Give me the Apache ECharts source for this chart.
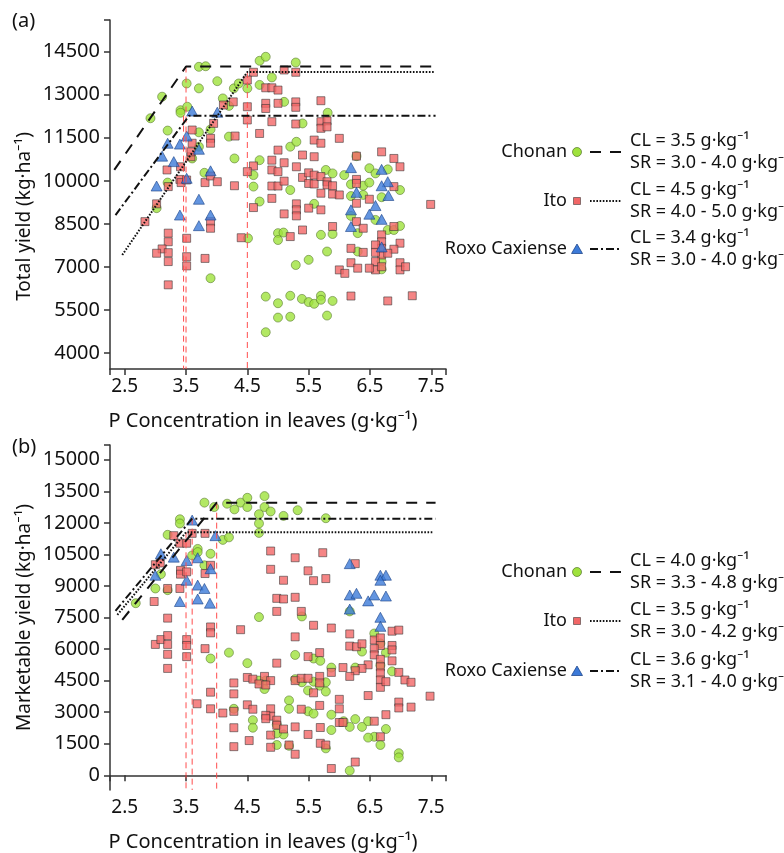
<!DOCTYPE html>
<html>
<head>
<meta charset="utf-8">
<script src="https://cdn.jsdelivr.net/npm/echarts@6/dist/echarts.min.js"></script>
<style>
  html, body { margin: 0; padding: 0; background: #fff; }
  #chart { width: 784px; height: 853px; }
</style>
</head>
<body>
<div id="chart"></div>
<script>
// ticks
const xTicks = [2.5, 3.5, 4.5, 5.5, 6.5, 7.5];
const yTicksA = [4000, 5500, 7000, 8500, 10000, 11500, 13000, 14500];
const yTicksB = [0, 1500, 3000, 4500, 6000, 7500, 9000, 10500, 12000, 13500, 15000];

// (a) total yield
const chonanA = [
  [2.92,12180],[3.11,12930],[3.51,13390],[3.71,13970],[3.82,13990],[3.71,13220],[4.01,13470],[4.28,13220],
  [4.1,12870],[4.2,12610],[3.41,12460],[3.41,12370],[3.52,12580],[3.2,11750],[3.71,11690],[3.9,11790],
  [3.71,11190],[3.6,10780],[4.29,10780],[3.8,10280],[3.2,9940],[3.02,9050],[3.9,6610],[4.2,11540],
  [4.7,14180],[4.8,14320],[5.29,14120],[4.9,13600],[4.7,13340],[4.5,13220],[4.36,13390],[5.1,12750],
  [5.4,12000],[5.81,12370],[5.2,11190],[5.3,11360],[4.7,10720],[4.6,10200],[4.6,9800],[5.2,9680],
  [4.7,9280],[5.59,9200],[5.78,10380],[5.89,10260],[6.08,10200],[5.0,8180],[5.09,8200],[5.0,7940],
  [4.51,8000],[5.7,8120],[5.89,8150],[5.8,7540],[5.5,7250],[5.29,7070],[4.8,5970],[5.0,5740],
  [5.2,6000],[5.39,5890],[5.5,5780],[5.59,5720],[5.7,6000],[5.7,5860],[5.89,5820],[5.0,5240],
  [5.2,5270],[5.8,5310],[4.8,4730],
  [6.28,10860],[6.19,9880],[6.39,9830],[6.49,9940],[6.49,10440],[6.59,10260],[6.79,10400],[6.99,9680],
  [6.19,9470],[6.39,9510],[6.69,9430],[6.19,8780],[6.59,8640],[6.79,8290],[6.89,8290],[6.99,8430],
  [6.3,8180],[6.3,7540],[6.69,7190],[6.69,6920]
];
const itoA = [
  [2.83,8580],[3.02,9200],[3.21,9800],[3.19,10380],[3.4,10050],[3.42,9940],[3.51,10030],[3.41,10490],
  [3.58,10840],[3.58,11010],[3.6,11310],[3.6,11770],[3.9,11480],[3.9,11310],[3.95,12000],[3.81,9940],
  [3.9,10170],[4.01,9970],[3.9,8580],[3.9,8350],[3.81,7300],[3.51,8000],[3.51,7360],[3.51,7040],
  [3.21,8180],[3.21,7880],[3.11,7630],[3.02,7480],[3.21,7500],[3.21,7190],[3.21,6380],[4.11,12640],
  [4.27,12750],[4.29,9830],
  [4.6,13780],[5.1,13860],[5.29,13780],[4.8,13240],[4.9,13240],[5.0,13160],[4.5,13510],[4.5,12580],
  [4.5,12120],[4.8,12700],[4.8,12520],[5.0,12700],[5.29,12750],[5.29,12560],[5.7,12790],[4.9,12060],
  [5.29,11980],[5.7,12060],[5.7,11830],[5.8,12090],[5.8,11880],[6.0,11480],[5.59,11420],[5.7,11310],
  [4.7,11650],[4.3,11560],[5.0,11070],[5.4,10900],[5.59,10840],[4.9,10720],[4.9,10380],[5.1,10630],
  [5.3,10490],[4.6,10520],[4.5,10320],[5.0,10320],[4.9,9820],[5.0,9820],[5.1,9990],[5.4,10120],
  [5.5,10280],[5.5,9910],[5.59,10200],[5.59,9890],[5.7,10150],[5.8,9970],[5.8,9860],[5.89,9830],
  [5.89,9540],[5.7,9570],[4.9,9390],[4.6,9070],[5.3,9200],[5.3,8990],[5.3,8780],[5.5,9050],
  [5.7,8990],[5.1,8850],[5.4,8290],[5.2,8060],[5.89,8410],[4.4,8020],[6.0,6900],[6.09,6780],
  [6.28,10860],[6.69,11010],[6.89,10780],[6.99,10490],[6.28,10050],[6.28,9910],[6.0,9510],[6.28,9220],
  [6.49,9360],[6.89,9800],[7.49,9180],[6.28,8580],[6.39,8350],[6.69,8120],[6.69,7880],[6.69,7650],
  [6.69,7420],[6.59,7770],[6.59,7510],[6.89,8410],[6.99,7830],[6.89,7620],[6.79,7480],[6.19,7650],
  [6.39,7510],[6.19,7150],[6.3,6960],[6.99,7150],[6.99,6900],[7.08,7010],[6.59,7190],[6.59,6900],
  [6.49,6960],[6.69,7010],[6.19,5990],[6.79,5820],[7.19,6000]
];
const roxoA = [
  [3.6,12430],[4.01,12390],[3.2,11310],[3.4,11280],[3.51,11560],[3.71,11100],[3.11,10860],[3.3,10670],
  [3.9,10350],[3.51,10090],[3.02,9820],[3.71,9360],[3.4,8810],[3.9,8810],[3.71,8440],
  [6.19,10460],[6.69,10400],[6.79,9970],[6.69,9830],[6.28,9600],[6.8,9490],[6.59,9140],[6.19,8990],
  [6.49,8840],[6.69,8660],[6.19,8410],[6.69,7700]
];

// (b) marketable yield
const chonanB = [
  [2.68,8180],[3.0,8880],[3.2,8800],[3.09,9560],[3.2,11430],[3.4,12170],[3.4,11970],[3.6,10450],
  [3.69,10760],[3.69,10610],[3.9,10530],[3.8,9980],[3.8,12960],[3.96,12750],[4.17,12910],[4.1,11190],
  [4.2,11310],[3.9,5550],[4.2,5830],[4.28,3160],
  [4.29,12640],[4.39,12960],[4.5,13190],[4.5,12750],[4.69,12410],[4.69,11970],[4.69,11520],[4.78,13270],
  [4.78,12750],[4.88,12540],[5.09,12330],[5.32,12600],[5.78,12220],[4.69,7520],[4.5,5330],[5.28,5720],
  [5.39,7550],[5.58,5550],[5.69,5440],[5.87,5120],[4.69,4500],[4.8,4500],[4.78,4100],[5.28,4570],
  [5.58,4450],[5.78,4420],[5.68,4260],[5.78,3980],[5.49,4030],[5.39,4420],[5.18,3560],[5.18,3160],
  [5.49,3040],[5.58,2930],[5.87,2880],[4.59,2620],[4.59,2260],[4.98,2410],[5.09,1940],[4.98,1990],
  [5.87,2150],[4.98,1440],[5.18,1400],[5.78,1280],
  [6.17,7790],[6.57,6740],[6.67,6270],[6.37,5880],[6.76,5830],[6.26,5120],[6.67,5230],[6.86,4940],
  [6.07,2570],[6.17,2300],[6.26,2670],[6.37,2300],[6.47,2570],[6.57,1830],[6.47,1790],[6.67,1440],
  [6.76,2200],[6.97,1050],[6.97,850],[6.17,220]
];
const itoB = [
  [3.0,10010],[3.08,10090],[2.98,8260],[3.2,8880],[3.2,7470],[3.3,11390],[3.4,11030],[3.51,11030],
  [3.41,9740],[3.41,9560],[3.51,9670],[3.4,8880],[3.6,11500],[3.81,11500],[3.81,9590],[3.9,9980],
  [3.0,6220],[3.09,6450],[3.2,6640],[3.2,6220],[3.2,5750],[3.2,5080],[3.51,6450],[3.51,6170],
  [3.51,5640],[3.81,6020],[3.9,7050],[3.9,6770],[3.68,3400],[3.9,3950],[3.9,3160],[4.1,2960],
  [4.28,4390],[4.28,3870],[4.28,3040],[4.28,2260],[4.28,1360],
  [4.88,10660],[4.88,9790],[5.28,10340],[5.73,10580],[5.49,9720],[5.58,9250],[5.78,9350],[5.09,9270],
  [4.98,8410],[5.09,8380],[5.28,8460],[4.98,7790],[5.38,7790],[5.28,6580],[5.58,7130],[5.87,7000],
  [4.39,6920],[4.98,5330],[5.49,5640],[5.68,5830],[5.87,4890],[6.06,5120],[4.5,4650],[4.78,4700],
  [4.88,4500],[4.59,4570],[4.69,4340],[4.8,4290],[5.28,4500],[5.38,4610],[5.49,4610],[5.68,4700],
  [5.68,4390],[5.58,3920],[5.68,3320],[6.0,3610],[6.0,3160],[4.5,3350],[4.59,3140],[4.88,3160],
  [4.88,2810],[4.8,2850],[4.8,2690],[4.98,2620],[4.98,2380],[5.09,2200],[5.28,2300],[5.38,3140],
  [5.69,2270],[6.0,2510],[6.06,2510],[4.88,1910],[4.88,1330],[4.53,1650],[5.49,1940],[5.69,1520],
  [5.78,1440],[5.18,1440],[5.28,1000],[5.87,320],
  [6.26,10060],[6.17,6720],[6.17,6140],[6.28,6110],[6.37,6250],[6.57,6430],[6.67,6530],[6.67,6170],
  [6.86,6850],[6.97,6900],[6.86,6170],[6.86,5960],[6.57,6020],[6.57,5720],[6.67,5510],[6.67,5160],
  [6.47,5250],[6.37,5080],[6.26,4970],[6.17,4700],[6.86,5440],[6.67,4860],[6.67,4530],[6.67,4180],
  [6.76,4450],[6.97,4890],[7.07,4530],[7.17,4420],[6.47,3790],[6.97,3480],[6.97,3200],[7.17,3240],
  [7.48,3760],[6.76,2880],[6.57,2570],[6.67,1830],[6.26,630]
];
const roxoB = [
  [3.6,12130],[3.98,11390],[3.09,10530],[3.0,9510],[3.3,10370],[3.51,10210],[3.69,10340],[3.9,9820],
  [3.51,9270],[3.69,9040],[3.8,8880],[3.4,8260],[3.69,8380],[3.89,8180],
  [6.17,10060],[6.67,9510],[6.76,9510],[6.67,9270],[6.17,8570],[6.28,8650],[6.47,8290],[6.57,8570],
  [6.76,8520],[6.17,7900],[6.67,7510],[6.67,7080]
];

// linear-plateau fits
const fitChonanA = [[2.33,10380],[3.5,13980],[7.57,13980]];
const fitItoA = [[2.46,7420],[4.5,13790],[7.54,13790]];
const fitRoxoA = [[2.35,8810],[3.55,12270],[7.57,12270]];
const fitChonanB = [[2.46,7390],[4.0,12960],[7.57,12960]];
const fitItoB = [[2.38,7630],[3.5,11550],[7.54,11550]];
const fitRoxoB = [[2.35,7820],[3.6,12200],[7.57,12200]];

// critical levels (x, plateau top)
const critA = [[3.5,13980],[4.5,13790],[3.46,12270]];
const critB = [[4.0,12960],[3.5,11550],[3.6,12200]];

const names = ['Chonan', 'Ito', 'Roxo Caxiense'];
const clA = ['CL = 3.5 g·kg⁻¹', 'CL = 4.5 g·kg⁻¹', 'CL = 3.4 g·kg⁻¹'];
const srA = ['SR = 3.0 - 4.0 g·kg⁻¹', 'SR = 4.0 - 5.0 g·kg⁻¹', 'SR = 3.0 - 4.0 g·kg⁻¹'];
const clB = ['CL = 4.0 g·kg⁻¹', 'CL = 3.5 g·kg⁻¹', 'CL = 3.6 g·kg⁻¹'];
const srB = ['SR = 3.3 - 4.8 g·kg⁻¹', 'SR = 3.0 - 4.2 g·kg⁻¹', 'SR = 3.1 - 4.0 g·kg⁻¹'];

const FONT = '"Noto Sans", "DejaVu Sans", sans-serif';
const X_MIN = 2.26, X_MAX = 7.74;
const YA_MIN = 3450, YA_MAX = 15600;
const YB_MIN = -700, YB_MAX = 15700;

const greenStyle = { color: '#9fe23c', borderColor: 'rgba(80,110,40,0.85)', borderWidth: 0.8 };
const redStyle = { color: '#f26666', borderColor: 'rgba(50,50,50,0.7)', borderWidth: 1 };
const blueStyle = { color: '#3c7ad8', borderColor: 'rgba(20,60,130,0.9)', borderWidth: 0.8 };
const lineDashes = [[11, 9], [1.6, 1.6], [8, 3, 2, 3]];

function xAxisCfg(gi) {
  return {
    type: 'value', gridIndex: gi, min: X_MIN, max: X_MAX,
    name: 'P Concentration in leaves (g·kg⁻¹)', nameLocation: 'middle', nameGap: 42,
    nameTextStyle: { fontFamily: FONT, fontSize: 20, color: '#111', padding: [0, 30, 0, 0] },
    splitLine: { show: false },
    axisLine: { lineStyle: { color: '#333', width: 1.5 } },
    axisTick: { length: 6, lineStyle: { color: '#333', width: 1.5 }, customValues: [X_MIN].concat(xTicks, [X_MAX]) },
    axisLabel: { customValues: xTicks, margin: 8, fontFamily: FONT, fontSize: 19, color: '#111',
      formatter: v => v.toFixed(1) }
  };
}
function yAxisCfg(gi, name, min, max, ticks, pad) {
  return {
    type: 'value', gridIndex: gi, min: min, max: max,
    name: name, nameLocation: 'middle', nameGap: 76,
    nameTextStyle: { fontFamily: FONT, fontSize: 19, color: '#111', padding: pad },
    splitLine: { show: false },
    axisLine: { show: true, lineStyle: { color: '#333', width: 1.5 } },
    axisTick: { show: true, length: 6, lineStyle: { color: '#333', width: 1.5 }, customValues: ticks.concat([max]) },
    axisLabel: { customValues: ticks, margin: 10, fontFamily: FONT, fontSize: 20, color: '#111',
      formatter: v => String(Math.round(v)) }
  };
}

function scatter(data, gi, symbol, size, style) {
  return { type: 'scatter', xAxisIndex: gi, yAxisIndex: gi, data: data, symbol: symbol,
    symbolSize: size, itemStyle: style, z: 2, silent: true };
}
function fitLine(data, gi, dash) {
  return { type: 'line', xAxisIndex: gi, yAxisIndex: gi, data: data, showSymbol: false, z: 4,
    lineStyle: { color: '#111', width: 2, type: dash }, silent: true };
}
function critLines(crit, gi, yMin) {
  return crit.map(c => ({
    type: 'line', xAxisIndex: gi, yAxisIndex: gi, data: [[c[0], c[1]], [c[0], yMin]],
    showSymbol: false, z: 3, silent: true,
    lineStyle: { color: '#ff4d4d', width: 1, type: [6, 4] }
  }));
}

function legend(rowsY, cl, sr) {
  const els = [];
  rowsY.forEach((y, i) => {
    els.push({ type: 'text', x: 567, y: y, style: { text: names[i], font: '18px ' + FONT, fill: '#111',
      align: 'right', textAlign: 'right', verticalAlign: 'middle', textVerticalAlign: 'middle' } });
    if (i === 0) {
      els.push({ type: 'circle', shape: { cx: 577, cy: y, r: 4.5 }, style: { fill: greenStyle.color, stroke: greenStyle.borderColor, lineWidth: 0.8 } });
    } else if (i === 1) {
      els.push({ type: 'rect', shape: { x: 573.5, y: y - 3.5, width: 7, height: 7 }, style: { fill: redStyle.color, stroke: redStyle.borderColor, lineWidth: 0.8 } });
    } else {
      els.push({ type: 'polygon', shape: { points: [[577, y - 5], [582.5, y + 4.5], [571.5, y + 4.5]] }, style: { fill: blueStyle.color, stroke: blueStyle.borderColor, lineWidth: 0.8 } });
    }
    els.push({ type: 'line', shape: { x1: 590, y1: y, x2: 621, y2: y }, style: { stroke: '#111', lineWidth: 2, lineDash: lineDashes[i] } });
    els.push({ type: 'text', x: 630, y: y, style: { text: cl[i] + '\n' + sr[i], font: '18px ' + FONT, fill: '#111', lineHeight: 22,
      align: 'left', textAlign: 'left', verticalAlign: 'middle', textVerticalAlign: 'middle' } });
  });
  return els;
}

const chart = echarts.init(document.getElementById('chart'), null, { renderer: 'canvas' });
chart.setOption({
  animation: false,
  backgroundColor: '#fff',
  textStyle: { fontFamily: FONT },
  grid: [
    { left: 110, top: 20, width: 336, height: 349 },
    { left: 110, top: 445, width: 336, height: 348 }
  ],
  xAxis: [xAxisCfg(0), xAxisCfg(1)],
  yAxis: [
    yAxisCfg(0, 'Total yield (kg·ha⁻¹)', YA_MIN, YA_MAX, yTicksA, [0, 44, 0, 0]),
    yAxisCfg(1, 'Marketable yield (kg·ha⁻¹)', YB_MIN, YB_MAX, yTicksB, [0, 0, 0, 0])
  ],
  series: [
    scatter(chonanA, 0, 'circle', 9, greenStyle),
    scatter(itoA, 0, 'rect', 8, redStyle),
    scatter(roxoA, 0, 'triangle', [11, 10], blueStyle),
    scatter(chonanB, 1, 'circle', 9, greenStyle),
    scatter(itoB, 1, 'rect', 8, redStyle),
    scatter(roxoB, 1, 'triangle', [11, 10], blueStyle),
    ...critLines(critA, 0, YA_MIN),
    ...critLines(critB, 1, YB_MIN),
    fitLine(fitChonanA, 0, lineDashes[0]),
    fitLine(fitItoA, 0, lineDashes[1]),
    fitLine(fitRoxoA, 0, lineDashes[2]),
    fitLine(fitChonanB, 1, lineDashes[0]),
    fitLine(fitItoB, 1, lineDashes[1]),
    fitLine(fitRoxoB, 1, lineDashes[2])
  ],
  graphic: [
    { type: 'text', x: 12, y: 21, style: { text: '(a)', font: '20px ' + FONT, fill: '#111', verticalAlign: 'middle', textVerticalAlign: 'middle' } },
    { type: 'text', x: 12, y: 447, style: { text: '(b)', font: '20px ' + FONT, fill: '#111', verticalAlign: 'middle', textVerticalAlign: 'middle' } },
    ...legend([152, 201, 249], clA, srA),
    ...legend([572, 621, 671], clB, srB)
  ]
});
</script>
</body>
</html>
